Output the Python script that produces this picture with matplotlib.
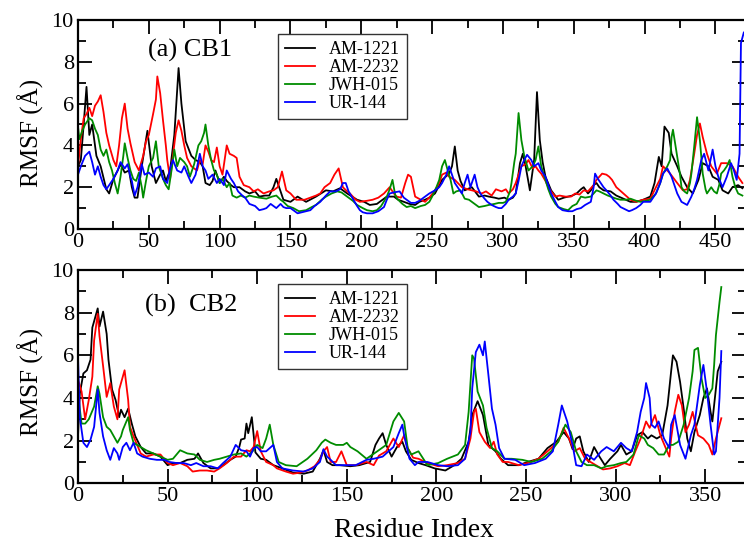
import matplotlib
matplotlib.use('Agg')
import matplotlib.pyplot as plt
from matplotlib.ticker import MultipleLocator

plt.rcParams['font.family'] = ['Liberation Serif', 'DejaVu Serif']

# ---------------- data ----------------
series_names = ['AM-1221', 'AM-2232', 'JWH-015', 'UR-144']
series_colors = ['#000000', '#ff0000', '#008c00', '#0000ff']

# (a) CB1
cb1_res_am1221 = [0,2,4,6,8,10,13,16,20,22,25,28,30,33,36,38,40,42,45,49,52,55,58,60,62,65,68,71,73,76,
                  80,83,86,88,90,93,95,97,100,103,105,108,110,114,118,121,125,128,132,135,138,140,143,145,150,155,161,168,175,180,
                  185,190,197,202,206,211,215,218,223,226,230,234,238,241,245,248,252,257,262,264,266,268,270,273,278,283,287,290,294,297,
                  301,304,307,309,312,314,316,319,322,324,326,328,330,334,339,343,346,349,352,355,357,360,362,364,366,368,371,376,380,385,
                  390,394,399,404,407,410,412,414,417,419,421,423,426,430,434,438,441,445,448,452,455,459,462,466,469]
cb1_am1221 = [3.0,3.3,5.0,6.8,4.5,5.0,3.5,3.0,1.9,1.7,2.4,2.8,3.1,2.7,2.8,2.0,1.5,1.5,3.0,4.7,3.0,2.2,2.6,2.8,2.3,2.8,4.5,7.7,6.0,4.2,
              3.5,3.3,3.2,3.0,2.2,2.1,2.3,2.8,2.2,2.5,2.3,2.1,2.0,2.0,1.8,1.7,1.8,1.55,1.6,1.6,2.0,2.4,1.8,1.4,1.3,1.55,1.3,1.55,1.85,1.8,
              1.95,1.7,1.4,1.3,1.15,1.2,1.4,1.55,1.55,1.4,1.3,1.2,1.15,1.3,1.4,1.5,1.7,2.35,2.65,3.0,3.95,2.8,2.3,1.85,2.0,1.55,1.6,1.55,1.5,1.45,
              1.5,1.4,1.5,1.7,3.15,3.6,3.0,1.85,3.3,6.55,4.25,3.2,2.5,1.85,1.4,1.5,1.55,1.6,1.7,1.9,2.0,1.7,1.85,2.1,2.2,2.0,1.85,1.8,1.6,1.45,
              1.3,1.3,1.4,1.55,2.2,3.45,3.0,4.9,4.6,3.6,3.3,3.0,2.5,2.0,1.7,2.35,3.15,3.0,2.5,2.35,1.85,1.7,2.0,2.1,1.95]

cb1_res_am2232 = [0,2,4,6,8,10,12,14,16,18,20,22,25,27,29,31,33,35,37,40,43,46,48,50,53,55,56,58,60,62,
                  63,65,67,69,71,73,75,77,80,84,86,88,90,92,94,96,98,100,102,105,107,110,112,114,117,121,124,127,131,135,
                  138,141,144,147,150,154,160,164,168,171,174,178,181,184,187,190,192,196,199,204,208,212,216,220,223,225,228,231,233,235,
                  238,242,245,248,252,255,257,260,262,266,271,275,278,281,285,288,292,295,299,302,304,307,309,311,313,316,318,321,323,325,
                  327,330,332,334,337,340,344,348,351,354,357,360,362,364,366,368,370,373,375,377,380,385,390,394,399,404,408,411,413,416,
                  418,423,427,430,432,435,437,439,441,444,447,451,454,458,462,466,469]
cb1_am2232 = [3.0,4.3,5.3,5.5,5.8,5.4,5.9,6.1,6.4,5.6,4.6,4.0,3.3,3.0,4.0,5.3,6.0,4.8,4.1,3.2,2.8,3.5,4.2,4.5,5.5,6.2,7.3,6.5,5.2,4.0,
              3.3,2.4,3.5,4.6,5.2,4.7,4.0,3.4,3.0,2.8,3.3,3.1,4.0,3.7,3.3,3.2,3.9,3.0,2.6,4.0,3.6,3.5,3.4,2.5,2.1,2.0,1.8,1.9,1.7,1.8,
              1.85,2.0,2.75,1.85,1.7,1.4,1.4,1.5,1.6,1.7,2.0,2.2,2.6,2.9,2.0,1.8,1.7,1.4,1.3,1.35,1.4,1.5,1.7,2.0,1.7,1.55,1.5,2.2,2.6,2.5,
              1.55,1.4,1.3,1.5,1.85,2.2,2.6,2.7,2.5,2.35,2.0,1.9,1.85,1.8,1.7,1.8,1.6,1.9,1.8,1.9,1.7,1.9,2.2,2.6,3.0,3.1,3.3,2.9,3.0,2.8,
              2.65,2.3,2.0,1.8,1.55,1.6,1.55,1.55,1.7,1.65,1.85,1.8,1.95,2.1,2.35,2.5,2.65,2.6,2.5,2.35,2.0,1.7,1.4,1.3,1.4,1.45,2.0,2.4,3.0,2.8,
              2.65,2.2,1.85,1.9,2.35,3.6,4.5,5.05,4.4,3.6,3.0,2.65,3.15,3.15,3.0,2.5,2.2]

cb1_res_jwh015 = [0,1,3,5,8,10,12,14,16,18,20,22,24,26,28,30,32,33,35,37,39,41,43,45,46,48,50,53,55,57,
                  60,62,64,66,68,70,72,75,77,79,82,85,87,89,90,92,94,96,98,100,102,105,107,109,112,115,118,121,124,128,
                  133,137,140,143,145,148,152,156,161,165,168,172,175,179,183,186,190,194,197,201,204,208,211,214,218,220,222,224,226,229,
                  232,235,238,242,245,248,250,253,255,257,259,261,263,265,267,270,273,276,280,283,287,290,294,297,300,302,305,306,308,309,
                  311,313,315,318,321,323,325,327,330,332,334,337,339,343,346,349,352,355,358,362,366,368,371,374,376,380,383,387,390,394,
                  397,401,404,408,411,413,416,418,419,420,422,423,425,426,428,430,432,433,435,437,439,441,443,444,447,449,451,453,454,456,
                  458,460,462,464,466,469]
cb1_jwh015 = [4.9,4.3,4.7,5.0,5.3,5.2,4.8,4.5,3.8,3.5,3.8,3.2,2.8,2.2,1.7,2.5,3.5,4.1,3.4,2.8,2.4,2.3,2.7,2.0,1.5,2.3,3.0,3.4,4.2,3.0,
              2.4,2.1,1.9,2.8,3.8,3.0,3.4,3.2,3.0,2.5,3.1,4.0,4.2,4.6,5.0,4.0,3.3,2.8,2.6,2.2,2.4,2.0,2.2,1.6,1.5,1.6,1.5,1.6,1.55,1.5,
              1.45,1.55,1.6,1.4,1.3,1.1,1.0,0.85,0.9,1.05,1.15,1.4,1.55,1.7,1.8,1.75,1.55,1.35,1.15,1.0,0.9,0.85,0.9,1.1,1.55,1.9,2.35,1.6,1.4,1.2,
              1.05,1.1,1.0,1.1,1.15,1.3,1.55,2.0,2.35,3.0,3.3,2.8,2.35,1.7,1.8,1.85,1.45,1.4,1.2,1.05,1.1,1.15,1.2,1.25,1.25,1.3,1.8,2.2,3.2,3.6,
              5.55,4.25,3.5,2.8,3.0,3.3,3.95,3.0,2.35,1.9,1.55,1.2,1.05,0.95,0.9,1.1,1.2,1.55,1.5,1.55,1.85,1.8,1.7,1.6,1.55,1.45,1.4,1.4,1.45,1.35,
              1.3,1.35,1.4,1.7,2.2,2.65,3.0,3.3,4.4,4.75,3.9,3.45,2.6,2.0,1.8,1.7,2.2,2.65,3.95,5.35,4.25,2.65,1.9,1.7,2.0,1.8,1.7,2.2,2.65,2.8,
              3.0,3.3,2.5,2.0,1.7,1.6]

cb1_res_ur144 = [0,2,5,8,10,12,14,16,18,20,22,25,28,30,33,35,37,38,40,42,45,47,50,53,55,58,60,63,65,67,
                 70,73,75,78,80,83,86,88,90,92,95,98,100,103,105,108,110,113,116,118,121,125,128,131,133,136,138,140,143,145,
                 147,150,153,155,158,161,164,167,171,175,178,182,185,187,189,191,194,197,199,201,204,208,212,216,218,220,223,227,230,232,
                 235,238,241,245,248,252,255,257,260,262,264,266,269,271,273,275,277,280,282,284,287,289,292,295,297,299,302,304,307,309,
                 311,313,315,317,320,322,325,327,330,332,334,337,339,342,346,349,352,355,358,362,364,365,367,369,371,373,376,378,381,383,
                 386,389,391,394,397,399,402,404,408,411,413,416,419,421,423,426,430,433,435,437,440,442,445,448,450,452,455,458,461,463,
                 465,467,468,470]
cb1_ur144 = [2.6,3.0,3.5,3.7,3.2,2.6,3.0,2.5,2.1,1.9,2.1,2.4,2.8,3.2,2.9,3.1,2.5,2.3,1.6,2.0,3.1,2.6,2.7,2.5,2.9,3.0,2.4,2.2,2.9,3.3,
             2.8,2.7,3.0,2.5,2.2,2.6,3.6,3.0,2.8,2.4,2.6,2.2,2.4,2.1,2.8,2.4,2.2,1.8,1.6,1.5,1.2,1.1,0.9,0.95,1.0,1.2,1.1,1.0,1.2,1.05,
             1.0,1.0,0.85,0.75,0.8,0.85,0.9,1.1,1.3,1.6,1.8,1.8,1.9,2.2,2.2,1.8,1.45,1.1,0.9,0.8,0.75,0.75,0.85,1.05,1.4,1.7,1.75,1.8,1.5,1.4,
             1.25,1.25,1.35,1.55,1.7,1.85,2.0,2.2,2.6,3.0,2.6,2.2,1.9,1.7,2.2,2.6,2.0,2.6,2.0,1.7,1.45,1.3,1.15,1.05,1.0,1.0,1.2,1.4,1.55,1.7,
             2.3,3.0,3.3,3.55,3.3,3.0,3.15,2.8,2.5,2.1,1.7,1.3,1.05,0.9,0.85,0.85,0.95,1.0,1.15,1.3,2.0,2.65,2.4,2.2,2.0,1.85,1.6,1.4,1.2,1.05,
             0.95,0.85,0.9,1.0,1.15,1.3,1.3,1.3,1.7,2.2,2.65,2.9,2.5,2.1,1.7,1.3,1.15,1.55,1.9,2.35,3.3,3.6,2.8,3.8,3.0,2.5,2.0,2.5,3.15,2.8,
             2.35,3.6,8.9,9.4]

# (b) CB2
cb2_res_am1221 = [0,1,3,5,7,8,10,11,12,14,16,17,19,21,23,24,26,28,30,32,35,38,42,46,50,53,57,61,65,67,
                  70,74,78,81,85,88,90,91,93,94,95,97,99,102,105,109,114,120,126,131,135,137,139,142,146,152,157,163,166,168,
                  170,172,175,178,181,183,186,190,194,199,205,210,214,218,220,223,226,229,233,236,240,246,251,257,262,267,271,274,276,278,
                  280,282,285,288,291,294,297,301,303,306,309,312,315,318,320,323,326,329,331,332,334,336,338,340,342,344,347,349,351,353,
                  354,356,357,359]
cb2_am1221 = [2.2,4.2,5.15,5.3,5.8,7.3,7.9,8.2,7.35,8.05,7.0,5.8,4.4,3.9,3.1,3.45,3.1,3.5,2.8,2.2,1.7,1.4,1.4,1.25,0.85,0.95,0.95,1.1,1.15,1.4,
              0.95,0.7,0.7,0.85,1.1,1.25,1.7,2.05,2.1,2.8,2.35,3.1,1.45,1.15,1.1,0.85,0.7,0.5,0.45,0.55,1.15,1.55,1.0,0.85,0.85,0.8,0.85,1.0,1.8,2.1,
              2.35,1.8,1.25,1.7,1.95,1.5,1.1,0.95,0.85,0.7,0.6,0.85,1.15,1.95,3.2,3.85,3.2,1.8,1.5,1.15,0.85,0.85,1.0,1.15,1.65,1.95,2.4,2.1,1.6,2.1,
              2.2,1.5,1.0,1.7,1.25,0.85,1.15,1.5,1.8,1.35,1.5,2.25,2.4,2.1,2.25,2.1,2.25,3.65,5.25,6.0,5.7,4.75,3.5,2.1,1.5,2.4,3.2,4.0,4.45,3.35,
              2.9,4.45,5.25,5.7]

cb2_res_am2232 = [0,2,4,6,8,9,11,12,14,16,18,20,22,23,25,26,28,29,31,35,38,42,46,50,53,57,61,64,68,72,
                  76,79,83,87,91,94,96,98,100,102,105,109,111,116,120,124,128,132,135,137,139,141,144,147,150,155,161,165,168,172,
                  176,179,182,184,187,190,195,201,206,212,216,219,221,222,224,227,230,232,234,237,240,246,251,257,262,268,271,274,277,280,
                  283,286,290,293,297,301,305,308,311,314,317,319,322,325,328,330,331,333,335,337,339,341,343,346,349,352,354,356,359]
cb2_am2232 = [4.85,4.3,3.0,3.9,5.0,6.7,7.95,6.9,5.5,4.05,4.7,3.6,3.0,4.4,5.0,5.3,3.9,2.65,2.2,1.4,1.25,1.35,1.35,0.95,0.85,0.95,0.8,0.55,0.6,0.6,
              0.55,0.7,0.95,1.25,1.25,1.55,1.5,1.7,2.45,1.5,1.0,0.85,0.7,0.55,0.45,0.5,0.6,0.8,1.1,1.5,1.7,1.0,1.0,1.5,0.85,0.85,1.0,0.85,1.3,1.5,
              2.1,1.7,2.25,1.65,1.2,1.15,0.95,0.8,0.85,0.95,1.15,2.1,3.35,3.5,2.4,1.95,1.65,1.95,1.35,1.0,1.0,0.85,0.95,1.15,1.5,1.95,2.6,2.1,1.5,1.65,
              1.15,1.0,0.8,0.65,0.7,0.8,0.95,0.85,1.5,2.1,2.9,2.6,3.2,2.25,1.65,1.25,2.1,3.35,4.15,3.65,2.4,2.75,3.35,2.25,2.1,1.8,1.35,2.1,3.05]

cb2_res_jwh015 = [0,2,4,6,9,11,12,14,16,18,20,22,24,25,28,29,31,35,38,42,46,50,53,57,61,65,68,72,76,79,
                  83,87,91,94,98,100,103,105,107,109,112,116,122,128,133,136,138,141,144,148,150,152,156,161,167,172,176,179,182,184,
                  186,190,195,201,206,212,216,218,220,221,223,226,228,231,234,238,242,248,253,259,264,268,272,275,276,278,281,284,288,292,
                  295,299,303,306,310,313,316,318,321,324,327,330,332,335,338,341,343,344,346,348,350,352,354,355,356,358,359]
cb2_jwh015 = [4.2,2.8,2.8,3.0,3.6,4.55,4.2,3.1,2.65,2.5,2.2,1.9,2.2,2.5,3.1,2.5,1.9,1.7,1.55,1.4,1.25,1.1,1.15,1.55,1.4,1.35,1.1,1.0,1.1,1.15,
              1.25,1.35,1.4,1.25,1.55,1.8,1.65,2.1,2.75,1.8,1.0,0.85,0.8,1.15,1.55,1.9,2.05,1.9,1.8,1.8,1.9,1.7,1.5,1.15,1.5,1.8,2.9,3.3,2.9,1.65,
              1.35,1.5,0.85,0.95,1.15,1.35,1.8,3.35,6.0,5.85,4.3,3.65,2.6,1.65,1.5,1.15,1.15,1.1,1.0,1.15,1.5,1.95,2.75,2.4,2.1,1.5,1.0,0.85,0.85,0.7,
              0.8,0.85,0.95,1.0,1.35,2.25,2.1,1.8,1.65,1.35,1.35,1.8,1.8,1.95,2.75,4.0,5.25,6.25,6.35,4.9,4.0,4.15,4.45,5.55,6.95,8.5,9.2]

cb2_res_ur144 = [0,1,3,5,7,9,11,12,14,16,18,20,22,23,25,27,29,31,33,36,40,44,48,51,55,59,63,66,70,74,
                 78,81,85,88,91,94,96,98,100,102,105,109,111,114,120,126,131,135,137,139,141,144,150,155,161,165,170,176,179,181,
                 182,185,188,190,195,201,206,212,216,219,220,222,224,226,227,229,231,233,235,238,244,249,255,261,265,268,270,273,276,278,
                 281,284,288,292,295,299,303,306,309,312,314,316,317,319,320,322,324,327,330,331,333,336,339,342,344,347,349,351,353,355,
                 356,358,359]
cb2_ur144 = [5.95,3.1,1.9,1.7,2.05,2.65,4.4,3.3,2.2,1.55,1.1,1.65,1.4,1.1,1.7,1.9,1.55,1.9,1.4,1.25,1.15,1.1,1.1,1.0,0.95,0.95,0.85,0.95,0.8,0.8,
             0.7,0.95,1.25,1.8,1.55,1.5,1.25,1.65,1.7,1.5,1.5,1.8,1.0,0.7,0.6,0.55,0.7,1.0,1.6,1.25,1.1,0.85,0.85,0.85,1.1,1.15,1.25,1.7,2.35,2.75,
             2.25,1.15,0.85,1.0,1.0,0.85,0.8,0.85,1.15,2.4,4.45,6.15,6.5,6.0,6.65,5.1,3.5,2.75,1.65,1.15,1.1,0.85,0.95,1.15,1.5,2.75,3.65,2.9,1.8,0.85,
             0.8,1.35,1.1,1.5,1.7,1.5,1.9,1.65,1.5,2.4,3.35,4.0,4.7,4.0,2.75,2.6,2.9,2.1,1.65,2.75,3.2,1.8,1.15,2.25,2.75,4.6,5.55,4.3,2.75,1.35,
             1.5,4.0,6.2]

x_ticks_cb1 = list(range(0, 451, 50))
x_ticks_cb2 = list(range(0, 351, 50))
y_ticks = [0, 2, 4, 6, 8, 10]

# ---------------- figure ----------------
W, H = 744, 547
fig = plt.figure(figsize=(W / 100, H / 100), dpi=100)

def rect(l, t, r, b):
    return [l / W, 1 - b / H, (r - l) / W, (b - t) / H]

ax1 = fig.add_axes(rect(78, 20, 745.5, 229))
ax2 = fig.add_axes(rect(78, 270, 745.5, 483.3))

panels = [
    (ax1, [(cb1_res_am1221, cb1_am1221), (cb1_res_am2232, cb1_am2232),
           (cb1_res_jwh015, cb1_jwh015), (cb1_res_ur144, cb1_ur144)], 471.2, x_ticks_cb1),
    (ax2, [(cb2_res_am1221, cb2_am1221), (cb2_res_am2232, cb2_am2232),
           (cb2_res_jwh015, cb2_jwh015), (cb2_res_ur144, cb2_ur144)], 372.5, x_ticks_cb2),
]

for ax, data, xmax, xt in panels:
    for (r, v), name, col in zip(data, series_names, series_colors):
        ax.plot(r, v, color=col, lw=1.3, label=name)
    ax.set_xlim(0, xmax)
    ax.set_ylim(0, 10)
    ax.set_xticks(xt)
    ax.set_yticks(y_ticks)
    ax.xaxis.set_minor_locator(MultipleLocator(25))
    ax.yaxis.set_minor_locator(MultipleLocator(1))
    ax.tick_params(which='both', direction='in', top=True, right=True, width=1.3,
                   labelsize=16, pad=3, colors='black')
    ax.tick_params(which='major', length=10)
    ax.tick_params(which='minor', length=6)
    for s in ax.spines.values():
        s.set_linewidth(1.6)
    leg = ax.legend(loc='upper left', bbox_to_anchor=(277.5 / W, 1 - (34 if ax is ax1 else 284) / H),
                    bbox_transform=fig.transFigure, borderaxespad=0, fontsize=13,
                    frameon=True, fancybox=False, framealpha=1, edgecolor='#333333',
                    handlelength=1.65, handletextpad=0.8, labelspacing=0.05, borderpad=0.4)
    leg.get_frame().set_linewidth(1.0)

fig.text(31 / W, 1 - 132.5 / H, 'RMSF (Å)', rotation=90, ha='center', va='center', fontsize=18)
fig.text(31 / W, 1 - 382 / H, 'RMSF (Å)', rotation=90, ha='center', va='center', fontsize=18)
fig.text(148 / W, 1 - 56.5 / H, '(a) CB1', ha='left', va='baseline', fontsize=19)
fig.text(145 / W, 1 - 312 / H, '(b)  CB2', ha='left', va='baseline', fontsize=19)
fig.text(414 / W, 1 - 537 / H, 'Residue Index', ha='center', va='baseline', fontsize=20)

fig.savefig('out.png', dpi=100)
